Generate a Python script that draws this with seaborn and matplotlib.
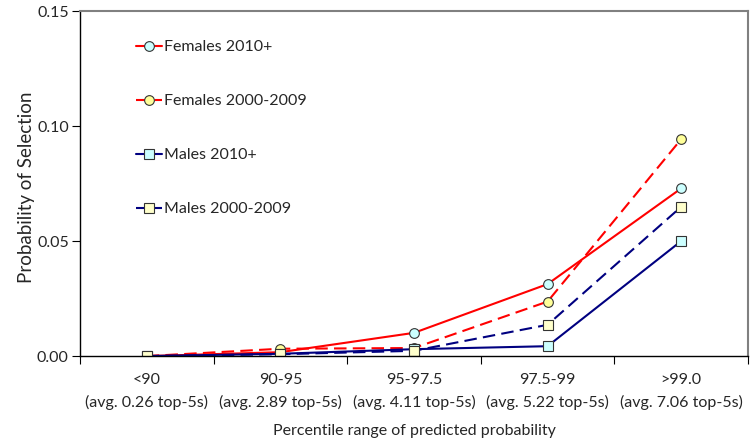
import numpy as np
import pandas as pd
import matplotlib
matplotlib.use("Agg")
import matplotlib.pyplot as plt
import seaborn as sns
from matplotlib.ticker import FixedLocator, FormatStrFormatter

categories = ['<90', '90-95', '95-97.5', '97.5-99', '>99.0']
avg_top5 = ['0.26', '2.89', '4.11', '5.22', '7.06']

females_2010 = [0.0, 0.0017, 0.0101, 0.0313, 0.0729]
females_2000 = [0.0, 0.0032, 0.0035, 0.0237, 0.0943]
males_2010 = [0.0, 0.0010, 0.0030, 0.0043, 0.0500]
males_2000 = [0.0, 0.0008, 0.0023, 0.0136, 0.0649]

series = [
    ('Females 2010+', females_2010, '#FF0000', '-', 'o', '#CCFFFF'),
    ('Females 2000-2009', females_2000, '#FF0000', '--', 'o', '#FFFF99'),
    ('Males 2010+', males_2010, '#000080', '-', 's', '#CCFFFF'),
    ('Males 2000-2009', males_2000, '#000080', '--', 's', '#FFFFCC'),
]

sns.set_style("white")
plt.rcParams['font.family'] = ['Lato', 'DejaVu Sans']

fig = plt.figure(figsize=(7.54, 4.44), dpi=100)
ax = fig.add_axes([0.106, 0.198, 0.886, 0.777])

pos = np.arange(len(categories))
for label, vals, col, ls, mk, fc in series:
    df = pd.DataFrame({'x': pos, 'y': vals})
    sns.lineplot(data=df, x='x', y='y', ax=ax, color=col, linestyle=ls,
                 linewidth=1.5, marker=mk, markersize=7,
                 markerfacecolor=fc, markeredgecolor='#333333',
                 markeredgewidth=0.8, label=label)
    if ls == '--':
        ax.lines[-1].set_dashes((6, 3))

ax.set_xlim(-0.5, len(categories) - 0.5)
ax.set_ylim(0, 0.15)
ax.set_yticks([0, 0.05, 0.10, 0.15])
ax.yaxis.set_major_formatter(FormatStrFormatter('%.2f'))
ax.set_xticks(pos)
ax.set_xticklabels([f"{c}\n(avg. {a} top-5s)" for c, a in zip(categories, avg_top5)],
                   fontsize=11.5, linespacing=1.7)
ax.xaxis.set_minor_locator(FixedLocator(np.arange(-0.5, len(categories), 1.0)))
ax.tick_params(axis='x', which='major', length=0, pad=12)
ax.tick_params(axis='x', which='minor', length=6, width=0.8, color='black', direction='out', bottom=True)
ax.tick_params(axis='y', length=6, width=0.8, color='black', direction='out', left=True, labelsize=11.5, pad=2)

for s in ['left', 'bottom']:
    ax.spines[s].set_color('black')
    ax.spines[s].set_linewidth(1.0)
for s in ['top', 'right']:
    ax.spines[s].set_color('#808080')
    ax.spines[s].set_linewidth(1.5)

ax.set_xlabel('Percentile range of predicted probability', fontsize=11.5, labelpad=10)
ax.set_ylabel('Probability of Selection', fontsize=13.5)
ax.yaxis.set_label_coords(-0.067, 0.49)

leg = ax.legend(loc='upper left', bbox_to_anchor=(0.075, 0.935), frameon=False,
                fontsize=11.5, labelspacing=2.5, handlelength=1.6, handletextpad=0.1,
                borderaxespad=0)

fig.savefig('out.png', dpi=100)
